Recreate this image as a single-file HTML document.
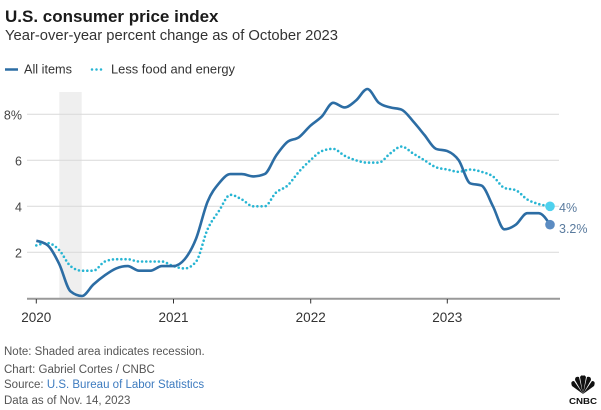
<!DOCTYPE html>
<html><head><meta charset="utf-8"><style>
html,body{margin:0;padding:0;background:#fff;}
svg{display:block;font-family:"Liberation Sans",Arial,sans-serif;}
</style></head><body>
<svg id="s" width="601" height="410" viewBox="0 0 601 410" xmlns="http://www.w3.org/2000/svg">
<rect width="601" height="410" fill="#fff"/>
<text x="5" y="22" font-size="17" font-weight="bold" fill="#1a1a1a">U.S. consumer price index</text>
<text x="5" y="40" font-size="14.6" fill="#333" textLength="333" lengthAdjust="spacingAndGlyphs">Year-over-year percent change as of October 2023</text>
<line x1="5" y1="69.5" x2="18" y2="69.5" stroke="#2c6da4" stroke-width="2.5"/>
<text x="24" y="73.5" font-size="13" fill="#333" textLength="48" lengthAdjust="spacingAndGlyphs">All items</text>
<line x1="92" y1="69.5" x2="102" y2="69.5" stroke="#27b5d3" stroke-width="2.5" stroke-linecap="round" stroke-dasharray="0 4.5"/>
<text x="111" y="73.5" font-size="13" fill="#333" textLength="124" lengthAdjust="spacingAndGlyphs">Less food and energy</text>
<rect x="59.3" y="92" width="22.4" height="206" fill="#efefef"/>
<g stroke="#d9d9d9" stroke-width="1">
<line x1="27" y1="114.3" x2="559" y2="114.3"/>
<line x1="27" y1="160.3" x2="559" y2="160.3"/>
<line x1="27" y1="206.3" x2="559" y2="206.3"/>
<line x1="27" y1="252.3" x2="559" y2="252.3"/>
</g>
<g font-size="12.5" fill="#444" text-anchor="end">
<text x="22" y="119.5">8%</text>
<text x="22" y="165.5">6</text>
<text x="22" y="211.5">4</text>
<text x="22" y="257.5">2</text>
</g>
<line x1="27" y1="298.8" x2="560" y2="298.8" stroke="#999" stroke-width="2"/>
<g stroke="#333" stroke-width="1">
<line x1="36.3" y1="299" x2="36.3" y2="303.5"/>
<line x1="173.5" y1="299" x2="173.5" y2="303.5"/>
<line x1="310.7" y1="299" x2="310.7" y2="303.5"/>
<line x1="447.3" y1="299" x2="447.3" y2="303.5"/>
</g>
<g font-size="13.5" fill="#333" text-anchor="middle">
<text x="36.3" y="322">2020</text>
<text x="173.5" y="322">2021</text>
<text x="310.7" y="322">2022</text>
<text x="447.3" y="322">2023</text>
</g>
<path id="core" d="" fill="none" stroke="#27b5d3" stroke-width="2.6" stroke-linecap="round" stroke-dasharray="0 4.2"/>
<path id="all" d="" fill="none" stroke="#2c6da4" stroke-width="2.6" stroke-linejoin="round"/>
<circle cx="550" cy="206.3" r="4.8" fill="#4fd1ee"/>
<circle cx="550" cy="224.7" r="4.8" fill="#5c8cc2"/>
<text x="559" y="212" font-size="12.5" fill="#5a7b9e">4%</text>
<text x="559" y="233" font-size="12.5" fill="#5a7b9e">3.2%</text>
<g font-size="11.5" fill="#555">
<text x="4" y="355">Note: Shaded area indicates recession.</text>
<text x="4" y="373">Chart: Gabriel Cortes / CNBC</text>
<text x="4" y="388">Source: <tspan fill="#3d7bbf">U.S. Bureau of Labor Statistics</tspan></text>
<text x="4" y="404">Data as of Nov. 14, 2023</text>
</g>
<g fill="#111">
<path d="M583,394 L572,386 Q570,381 574,381 Z"/>
<path d="M583,394 L575,380 Q575,376 579,377 Z"/>
<path d="M583,394 L580,377 Q582,374 583,376 Z"/>
<path d="M583,394 L586,377 Q584,374 583,376 Z"/>
<path d="M583,394 L591,380 Q591,376 587,377 Z"/>
<path d="M583,394 L594,386 Q596,381 592,381 Z"/>
<text x="583" y="404" font-size="8" font-weight="bold" text-anchor="middle" textLength="28" lengthAdjust="spacingAndGlyphs">CNBC</text>
</g>
</svg>
<script>
(function(){
var all=[2.5,2.3,1.5,0.3,0.1,0.6,1.0,1.3,1.4,1.2,1.2,1.4,
1.4,1.7,2.6,4.2,5.0,5.4,5.4,5.3,5.4,6.2,6.8,7.0,
7.5,7.9,8.5,8.3,8.6,9.1,8.5,8.3,8.2,7.7,7.1,6.5,
6.4,6.0,5.0,4.9,4.0,3.0,3.2,3.7,3.7,3.2];
var core=[2.3,2.4,2.1,1.4,1.2,1.2,1.6,1.7,1.7,1.6,1.6,1.6,
1.4,1.3,1.6,3.0,3.8,4.5,4.3,4.0,4.0,4.6,4.9,5.5,
6.0,6.4,6.5,6.2,6.0,5.9,5.9,6.3,6.6,6.3,6.0,5.7,
5.6,5.5,5.6,5.5,5.3,4.8,4.7,4.3,4.1,4.0];
function X(i){return 36.3+i*137/12;}
function Y(v){return 298.3-23*v;}
function sign(v){return v<0?-1:1;}
function f(n){return n.toFixed(2);}
function mono(data){
var n=data.length,xs=[],ys=[],m=[];
for(var i=0;i<n;i++){xs.push(X(i));ys.push(Y(data[i]));}
for(var i=1;i<n-1;i++){
var h0=xs[i]-xs[i-1],h1=xs[i+1]-xs[i];
var s0=(ys[i]-ys[i-1])/h0,s1=(ys[i+1]-ys[i])/h1;
var p=(s0*h1+s1*h0)/(h0+h1);
m[i]=(sign(s0)+sign(s1))*Math.min(Math.abs(s0),Math.abs(s1),0.5*Math.abs(p))||0;
}
var sA=(ys[1]-ys[0])/(xs[1]-xs[0]);
m[0]=(3*sA-m[1])/2;
var sB=(ys[n-1]-ys[n-2])/(xs[n-1]-xs[n-2]);
m[n-1]=(3*sB-m[n-2])/2;
var d='M'+f(xs[0])+','+f(ys[0]);
for(var i=0;i<n-1;i++){
var dx=(xs[i+1]-xs[i])/3;
d+='C'+f(xs[i]+dx)+','+f(ys[i]+dx*m[i])+' '+f(xs[i+1]-dx)+','+f(ys[i+1]-dx*m[i+1])+' '+f(xs[i+1])+','+f(ys[i+1]);
}
return d;}
document.getElementById('all').setAttribute('d',mono(all));
document.getElementById('core').setAttribute('d',mono(core));
})();
</script>
</body></html>
